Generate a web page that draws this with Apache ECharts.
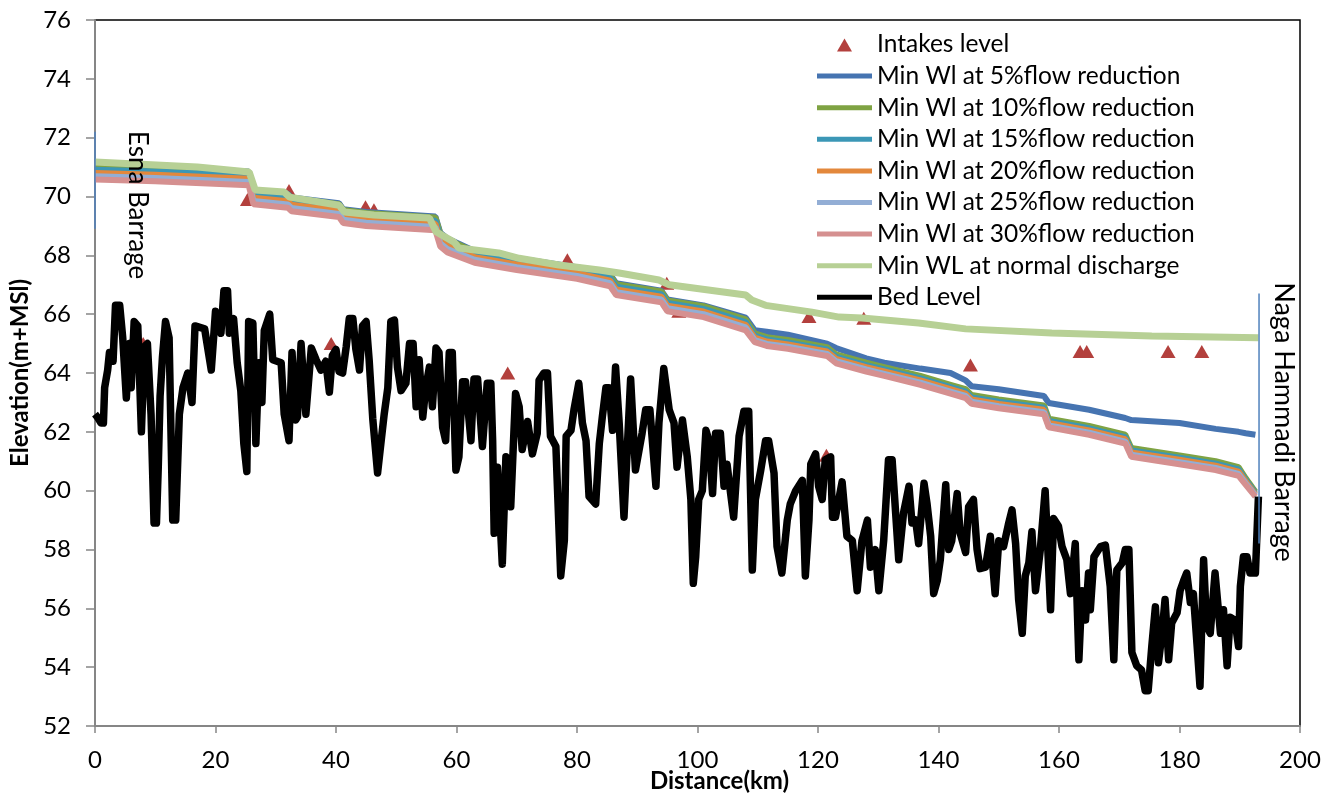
<!DOCTYPE html>
<html>
<head>
<meta charset="utf-8">
<script src="https://cdn.jsdelivr.net/npm/echarts@6.0.0/dist/echarts.min.js"></script>
<style>
  html, body { margin: 0; padding: 0; background: #fff; }
  #main { width: 1342px; height: 796px; }
</style>
</head>
<body>
<div id="main"></div>
<script>
// ticks
const yTicks = [52, 54, 56, 58, 60, 62, 64, 66, 68, 70, 72, 74, 76]
const xTicks = [0, 20, 40, 60, 80, 100, 120, 140, 160, 180, 200]

// intakes (km, level)
const intakeKm = [8.0, 25.3, 32.2, 39.2, 44.9, 46.3, 68.5, 78.4, 94.9, 96.9, 118.5, 121.4, 127.6, 145.3, 163.5, 164.6, 178.1, 183.7]
const intakeLevel = [65.0, 69.9, 70.2, 65.0, 69.65, 69.55, 64.0, 67.85, 67.05, 66.1, 65.92, 61.2, 65.86, 64.27, 64.73, 64.73, 64.73, 64.73]

// water level profiles, shared chainage (km)
const wlKm = [0, 10, 25.5, 26.3, 32, 32.6, 40.5, 41.2, 45, 56.5, 57.3, 58.5, 63, 70, 80, 85.5, 86.5, 94, 95, 101, 108, 109.5, 111.5, 115, 121.5, 123, 128, 131, 137, 142, 144.5, 145.5, 150, 157.5, 158.3, 165, 171, 172, 180, 186, 189.8, 191, 192.6]
const wl5 = [71.05, 70.99, 70.85, 70.21, 70.09, 69.97, 69.77, 69.57, 69.47, 69.32, 68.77, 68.57, 68.15, 67.9, 67.6, 67.35, 67.05, 66.8, 66.5, 66.3, 65.88, 65.45, 65.4, 65.3, 65.0, 64.85, 64.5, 64.35, 64.15, 64.0, 63.75, 63.55, 63.45, 63.22, 62.98, 62.75, 62.47, 62.4, 62.3, 62.1, 62.0, 61.95, 61.9]
const wl10 = [71.02, 70.96, 70.82, 70.18, 70.06, 69.94, 69.74, 69.54, 69.44, 69.29, 68.74, 68.54, 68.12, 67.87, 67.57, 67.32, 67.02, 66.77, 66.47, 66.27, 65.82, 65.35, 65.22, 65.12, 64.88, 64.63, 64.35, 64.2, 63.9, 63.6, 63.45, 63.25, 63.1, 62.9, 62.45, 62.2, 61.9, 61.45, 61.2, 61.0, 60.8, 60.42, 59.96]
const wl15 = [70.91, 70.85, 70.71, 70.07, 69.95, 69.83, 69.63, 69.43, 69.33, 69.18, 68.63, 68.43, 68.03, 67.78, 67.48, 67.23, 66.93, 66.68, 66.38, 66.18, 65.73, 65.27, 65.14, 65.04, 64.8, 64.55, 64.27, 64.12, 63.82, 63.52, 63.37, 63.17, 63.02, 62.82, 62.37, 62.12, 61.82, 61.37, 61.12, 60.92, 60.72, 60.36, 59.92]
const wl20 = [70.8, 70.74, 70.6, 69.96, 69.84, 69.72, 69.52, 69.32, 69.22, 69.07, 68.52, 68.32, 67.94, 67.69, 67.39, 67.14, 66.84, 66.59, 66.29, 66.09, 65.64, 65.2, 65.07, 64.97, 64.73, 64.48, 64.2, 64.05, 63.75, 63.45, 63.3, 63.1, 62.95, 62.75, 62.3, 62.05, 61.75, 61.3, 61.05, 60.85, 60.65, 60.31, 59.88]
const wl25 = [70.69, 70.63, 70.49, 69.85, 69.73, 69.61, 69.41, 69.21, 69.11, 68.96, 68.41, 68.21, 67.85, 67.6, 67.3, 67.05, 66.75, 66.5, 66.2, 66.0, 65.55, 65.12, 64.99, 64.89, 64.65, 64.4, 64.12, 63.97, 63.67, 63.37, 63.22, 63.02, 62.87, 62.67, 62.22, 61.97, 61.67, 61.22, 60.97, 60.77, 60.57, 60.25, 59.84]
const wl30 = [70.58, 70.52, 70.38, 69.74, 69.62, 69.5, 69.3, 69.1, 69.0, 68.85, 68.3, 68.1, 67.75, 67.5, 67.2, 66.95, 66.65, 66.4, 66.1, 65.9, 65.45, 65.05, 64.92, 64.82, 64.58, 64.33, 64.05, 63.9, 63.6, 63.3, 63.15, 62.95, 62.8, 62.6, 62.15, 61.9, 61.6, 61.15, 60.9, 60.7, 60.5, 60.2, 59.8]

// normal discharge
const normKm = [0, 17, 25.6, 26.6, 31.4, 32.3, 40.5, 41.4, 46.3, 55.5, 56.6, 59.6, 60.4, 67, 70.4, 77, 83.7, 87, 93.6, 95.3, 108, 109, 111.3, 119, 123.5, 127.3, 136.7, 144.5, 158.8, 175.4, 193.1]
const normWl = [71.17, 71.0, 70.83, 70.22, 70.15, 69.98, 69.7, 69.47, 69.37, 69.27, 68.8, 68.45, 68.25, 68.08, 67.9, 67.67, 67.5, 67.4, 67.16, 67.0, 66.65, 66.48, 66.3, 66.07, 65.9, 65.87, 65.7, 65.5, 65.36, 65.26, 65.2]

// bed level
const bedKm = [0.0, 0.4, 1.0, 1.4, 1.6, 2.1, 2.4, 3.0, 3.4, 4.1, 4.6, 5.2, 5.7, 6.0, 6.5, 7.1, 7.7, 8.2, 8.7, 9.3, 9.8, 10.2, 10.5, 10.8, 11.2, 11.7, 12.3, 12.9, 13.4, 14.0, 14.6, 15.4, 16.1, 16.6, 18.2, 19.3, 20.0, 20.9, 21.4, 22.0, 22.3, 23.0, 23.6, 24.2, 24.7, 25.2, 25.5, 26.2, 26.7, 27.2, 27.7, 28.1, 29.0, 29.5, 30.9, 31.4, 32.2, 32.7, 33.3, 33.6, 34.2, 35.0, 35.9, 36.7, 37.5, 38.3, 38.9, 39.4, 40.0, 40.5, 41.1, 41.7, 42.2, 42.8, 43.3, 43.9, 44.4, 45.0, 45.5, 46.1, 46.9, 47.5, 48.0, 48.6, 49.1, 49.7, 50.2, 50.8, 51.6, 52.2, 52.8, 53.3, 53.8, 54.4, 54.9, 55.5, 56.0, 56.6, 57.1, 57.7, 58.2, 58.8, 59.3, 59.9, 60.4, 61.0, 61.5, 62.4, 62.9, 63.5, 64.3, 65.1, 65.7, 66.0, 66.25, 66.8, 67.6, 68.2, 69.0, 69.8, 70.4, 70.9, 71.8, 72.6, 73.4, 73.7, 74.5, 75.1, 75.6, 76.5, 77.3, 77.9, 78.2, 79.0, 79.5, 80.3, 80.9, 81.5, 82.0, 83.1, 83.7, 84.2, 84.8, 85.3, 85.9, 86.4, 87.0, 87.8, 88.9, 89.7, 90.8, 91.4, 92.1, 93.1, 93.6, 94.4, 95.3, 96.1, 96.6, 97.5, 98.3, 98.9, 99.3, 99.7, 100.2, 100.8, 101.4, 101.9, 102.5, 103.0, 103.8, 104.4, 104.9, 105.5, 106.0, 106.9, 107.7, 108.5, 109.1, 109.6, 110.5, 111.3, 111.8, 112.7, 113.2, 114.0, 114.9, 115.4, 116.3, 117.4, 117.9, 118.5, 118.8, 119.6, 120.1, 120.7, 121.2, 122.1, 122.4, 122.9, 124.0, 124.8, 125.7, 126.5, 127.3, 128.2, 128.7, 129.5, 130.1, 130.9, 131.7, 132.3, 132.9, 133.4, 134.2, 135.1, 135.6, 136.2, 136.7, 137.6, 138.1, 138.7, 139.2, 139.8, 140.3, 141.2, 141.7, 142.2, 143.1, 143.6, 144.5, 145.0, 145.8, 146.4, 146.9, 147.8, 148.6, 149.4, 150.0, 150.8, 151.6, 152.2, 152.8, 153.3, 153.9, 154.4, 155.0, 155.5, 156.1, 156.9, 157.7, 158.6, 159.1, 159.9, 160.5, 161.3, 161.9, 162.7, 163.3, 163.8, 164.4, 164.9, 165.2, 165.8, 166.9, 167.7, 168.5, 169.1, 169.6, 170.5, 171.0, 171.6, 172.1, 172.9, 173.7, 174.3, 174.8, 175.4, 176.0, 176.5, 177.1, 177.6, 178.2, 178.7, 179.6, 180.1, 180.7, 181.2, 181.8, 182.3, 182.9, 183.4, 184.0, 184.5, 185.1, 185.9, 186.8, 187.3, 187.9, 188.4, 189.2, 189.8, 190.1, 190.6, 191.2, 191.7, 192.6, 193.1]
const bedLevel = [62.6, 62.5, 62.3, 62.3, 63.5, 64.1, 64.7, 64.4, 66.3, 66.3, 65.2, 63.15, 65.0, 63.5, 65.75, 65.6, 62.0, 64.9, 65.0, 62.6, 58.9, 58.9, 60.8, 63.2, 64.55, 65.75, 65.2, 59.0, 59.0, 62.6, 63.5, 64.0, 63.0, 65.6, 65.5, 64.1, 66.1, 65.35, 66.8, 66.8, 65.35, 65.85, 64.35, 63.4, 61.6, 60.65, 65.75, 65.7, 61.6, 64.35, 63.0, 65.45, 66.0, 64.45, 64.35, 62.6, 61.7, 64.7, 62.4, 62.5, 65.0, 62.6, 64.85, 64.45, 64.1, 64.4, 63.35, 64.6, 64.8, 64.05, 64.0, 64.9, 65.85, 65.85, 64.8, 64.1, 65.6, 65.75, 64.45, 62.45, 60.6, 61.7, 62.6, 63.5, 65.75, 65.8, 64.2, 63.4, 63.65, 65.0, 65.0, 62.85, 64.45, 62.5, 63.5, 64.2, 62.85, 64.85, 64.7, 62.15, 61.7, 64.7, 64.7, 60.7, 61.15, 63.7, 63.7, 61.7, 63.8, 63.8, 61.5, 63.65, 63.65, 61.7, 58.55, 60.8, 57.5, 61.15, 59.45, 63.3, 62.85, 61.4, 62.35, 61.25, 61.95, 63.75, 64.0, 64.0, 61.85, 61.5, 57.1, 58.3, 61.85, 62.05, 62.75, 63.65, 62.3, 61.7, 59.8, 59.55, 61.6, 62.5, 63.5, 63.5, 62.05, 64.2, 62.3, 59.1, 63.8, 60.7, 61.95, 62.75, 62.75, 60.15, 62.3, 64.15, 62.75, 62.3, 60.8, 62.4, 61.15, 59.7, 56.85, 57.75, 59.7, 60.0, 62.05, 61.7, 59.9, 61.95, 61.95, 60.15, 60.9, 59.9, 59.1, 61.85, 62.7, 62.7, 57.3, 59.7, 60.7, 61.7, 61.7, 60.6, 58.1, 57.2, 59.0, 59.55, 60.0, 60.35, 57.1, 59.0, 60.9, 61.25, 60.15, 59.7, 61.05, 61.15, 59.1, 59.1, 60.3, 58.45, 58.3, 56.6, 58.3, 59.0, 57.4, 58.0, 56.6, 58.3, 61.05, 61.05, 59.2, 57.65, 59.25, 60.15, 58.9, 59.0, 58.2, 60.25, 59.55, 58.45, 56.5, 56.95, 57.65, 60.2, 58.0, 58.3, 59.9, 58.55, 57.9, 59.45, 59.7, 58.0, 57.35, 57.4, 58.45, 56.5, 58.3, 58.1, 58.85, 59.35, 58.2, 56.3, 55.15, 57.1, 57.55, 58.6, 56.6, 58.0, 60.0, 55.95, 59.05, 58.8, 58.1, 57.65, 56.5, 58.2, 54.25, 56.6, 55.6, 57.2, 55.95, 57.75, 58.1, 58.15, 56.75, 54.25, 57.3, 57.55, 58.0, 58.0, 54.5, 54.05, 53.9, 53.2, 53.2, 54.7, 56.05, 54.15, 55.15, 56.3, 54.25, 55.5, 55.85, 56.6, 56.95, 57.2, 56.2, 56.5, 54.8, 53.35, 57.65, 55.4, 55.15, 57.2, 55.15, 55.95, 54.05, 55.7, 55.6, 54.7, 56.75, 57.75, 57.75, 57.2, 57.2, 59.8]

// barrage markers (km, level range)
const esnaKm = 0
const esnaRange = [68.9, 72.2]
const nagaKm = 193.2
const nagaRange = [58.2, 66.7]

const FONT = 'Lato'
const pairs = (xs, ys) => xs.map((x, i) => [x, ys[i]])
const lineIcon = 'path://M0,0 M55,14 M0,4.5 L55,4.5 L55,9.5 L0,9.5 Z'
const triIcon = 'path://M0,0 M55,14 M20,14 L27.5,1 L35,14 Z'

const wlSeries = [
  ['Min Wl at 5%flow reduction', wl5, '#4674B1'],
  ['Min Wl at 10%flow reduction', wl10, '#7FA343'],
  ['Min Wl at 15%flow reduction', wl15, '#3B97B6'],
  ['Min Wl at 20%flow reduction', wl20, '#E3883C'],
  ['Min Wl at 25%flow reduction', wl25, '#93AED5'],
  ['Min Wl at 30%flow reduction', wl30, '#D59090'],
]

const chart = echarts.init(document.getElementById('main'), null, { renderer: 'canvas' })

const series = [
  {
    name: 'Intakes level',
    type: 'scatter',
    symbol: 'triangle',
    symbolSize: [15, 13],
    itemStyle: { color: '#B3403D', opacity: 1 },
    data: pairs(intakeKm, intakeLevel),
  },
]
wlSeries.forEach(([name, vals, color]) => {
  series.push({
    name,
    type: 'line',
    symbol: 'none',
    color,
    lineStyle: { width: 6, color },
    data: pairs(wlKm, vals),
  })
})
series.push({
  name: 'Min WL at normal discharge',
  type: 'line',
  symbol: 'none',
  color: '#B7D095',
  lineStyle: { width: 7, color: '#B7D095' },
  data: pairs(normKm, normWl),
})
series.push({
  name: 'Bed Level',
  type: 'line',
  symbol: 'none',
  color: '#000',
  lineStyle: { width: 7.5, color: '#000', join: 'round' },
  data: pairs(bedKm, bedLevel),
})
// barrage marker lines
series.push({
  name: 'esna',
  type: 'line',
  symbol: 'none',
  lineStyle: { width: 1.5, color: '#4F81BD' },
  data: [[esnaKm, esnaRange[0]], [esnaKm, esnaRange[1]]],
  clip: false,
})
series.push({
  name: 'naga',
  type: 'line',
  symbol: 'none',
  lineStyle: { width: 1.5, color: '#4F81BD' },
  data: [[nagaKm, nagaRange[0]], [nagaKm, nagaRange[1]]],
})

const legendNames = ['Intakes level'].concat(wlSeries.map(s => s[0]), ['Min WL at normal discharge', 'Bed Level'])

const option = {
  animation: false,
  backgroundColor: '#fff',
  textStyle: { fontFamily: FONT },
  grid: {
    left: 95, right: 42, top: 20, bottom: 70,
    outerBoundsMode: 'none',
    containLabel: false,
    show: true, borderColor: '#000', borderWidth: 1.5,
  },
  legend: {
    orient: 'vertical',
    left: 812,
    top: 27,
    itemWidth: 55,
    itemHeight: 14,
    itemGap: 6.6,
    itemStyle: { borderWidth: 0 },
    textStyle: { fontSize: 24.5, color: '#000', fontFamily: FONT },
    data: legendNames.map(n => ({ name: n, icon: n === 'Intakes level' ? triIcon : lineIcon })),
  },
  xAxis: {
    type: 'value',
    min: xTicks[0],
    max: xTicks[xTicks.length - 1],
    interval: 20,
    name: 'Distance(km)',
    nameLocation: 'middle',
    nameGap: 43,
    nameMoveOverlap: false,
    nameTextStyle: { fontSize: 24, fontWeight: 'bold', color: '#000', fontFamily: FONT, padding: [0, 0, 0, 44] },
    axisLine: { lineStyle: { color: '#868686', width: 2 } },
    axisTick: { show: true, length: 7, lineStyle: { color: '#868686', width: 1.5 } },
    axisLabel: { fontSize: 24, color: '#000', margin: 22, fontFamily: FONT },
    splitLine: { show: false },
  },
  yAxis: {
    type: 'value',
    min: yTicks[0],
    max: yTicks[yTicks.length - 1],
    interval: 2,
    name: 'Elevation(m+MSl)',
    nameLocation: 'middle',
    nameGap: 63,
    nameMoveOverlap: false,
    nameTextStyle: { fontSize: 24, fontWeight: 'bold', color: '#000', fontFamily: FONT },
    axisLine: { lineStyle: { color: '#868686', width: 2 } },
    axisTick: { show: true, length: 9, lineStyle: { color: '#868686', width: 1.5 } },
    axisLabel: { fontSize: 24, color: '#000', margin: 24, fontFamily: FONT },
    splitLine: { show: false },
  },
  graphic: [
    {
      type: 'text',
      z: 100,
      x: 137, y: 205,
      rotation: -Math.PI / 2,
      style: { text: 'Esna Barrage', fontSize: 26, fontFamily: FONT, fill: '#000', align: 'center', verticalAlign: 'middle' },
    },
    {
      type: 'text',
      z: 100,
      x: 1284, y: 422,
      rotation: -Math.PI / 2,
      style: { text: 'Naga Hammadi Barrage', fontSize: 27, fontFamily: FONT, fill: '#000', align: 'center', verticalAlign: 'middle' },
    },
  ],
  series,
}

chart.setOption(option)
</script>
</body>
</html>
